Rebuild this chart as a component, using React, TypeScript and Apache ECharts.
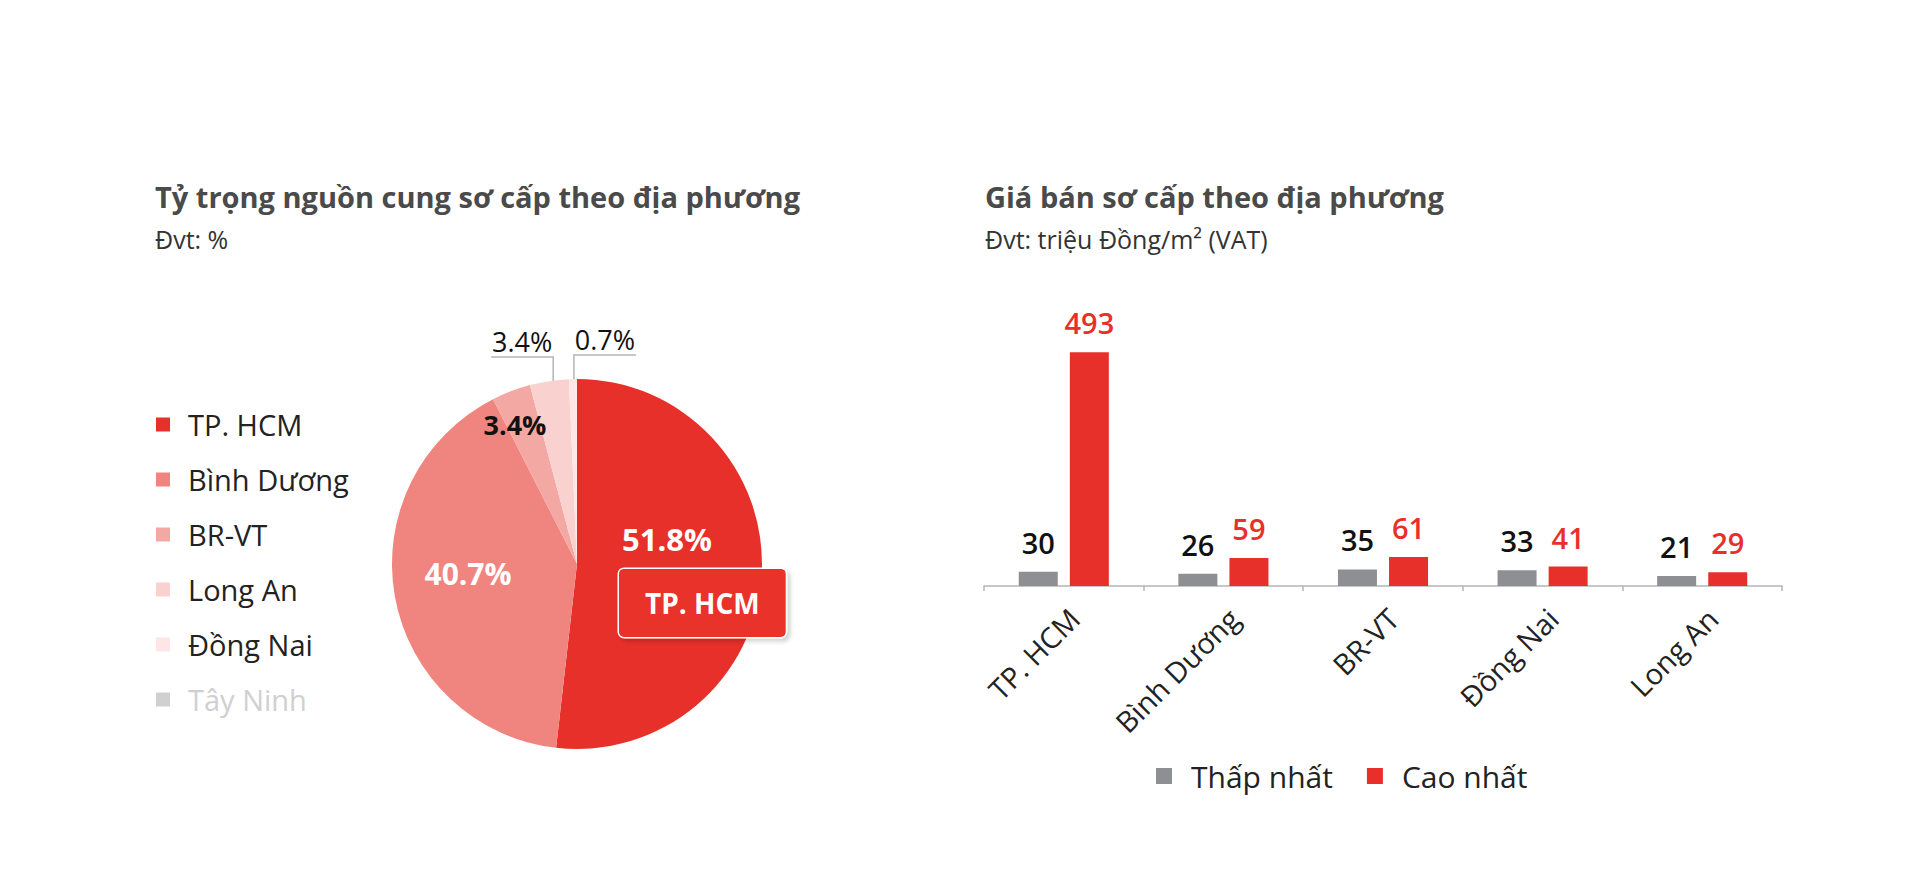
import React, { useEffect, useRef } from 'react';
import * as echarts from 'echarts';

const FONT = '"Open Sans", Lato, sans-serif';

// pie: share of primary supply by locality (%)
const pieNames = ['TP. HCM', 'Bình Dương', 'BR-VT', 'Long An', 'Đồng Nai', 'Tây Ninh'];
const pieValues = [51.8, 40.7, 3.4, 3.4, 0.7, 0];
const pieColors = ['#e8302a', '#f08580', '#f4a8a4', '#f9d1cf', '#fde6e5', '#cccccc'];

// bars: primary selling price (million VND / m2)
const barCategories = ['TP. HCM', 'Bình Dương', 'BR-VT', 'Đồng Nai', 'Long An'];
const lowPrices = [30, 26, 35, 33, 21];
const highPrices = [493, 59, 61, 41, 29];

const RED = '#e8302a';
const GRAY = '#8e8f93';

// nudges for the labels that sit inside the pie
const insideShift: Record<string, [number, number]> = {
  'TP. HCM': [30, 11],
  'Bình Dương': [-15, -8],
  'BR-VT': [-28, -50],
};

const App: React.FC = () => {
  const chartRef = useRef<HTMLDivElement>(null);

  useEffect(() => {
    const myChart = echarts.init(chartRef.current!, undefined, { renderer: 'svg' });

    const pieData = pieNames.map((name, i) => {
      const item: any = { name, value: pieValues[i], itemStyle: { color: pieColors[i] } };
      if (name === 'TP. HCM') {
        item.label = {
          position: 'inside',
          formatter: (p: any) => `{v|${p.value}%}\n{box|${p.name}}`,
          rich: {
            v: { fontSize: 31, fontWeight: 'bold', color: '#fff', align: 'left', padding: [0, 0, 14, 3], fontFamily: FONT },
            box: {
              fontSize: 28,
              fontWeight: 'bold',
              color: '#fff',
              fontFamily: FONT,
              backgroundColor: RED,
              borderColor: '#fff',
              borderWidth: 1.5,
              borderRadius: 5,
              padding: [20, 26],
              shadowColor: 'rgba(0,0,0,0.18)',
              shadowBlur: 4,
              shadowOffsetX: 3,
              shadowOffsetY: 3,
            },
          },
        };
      } else if (name === 'Bình Dương') {
        item.label = { position: 'inside', color: '#fff', fontSize: 30, fontWeight: 'bold' };
      } else if (name === 'BR-VT') {
        item.label = { position: 'inside', color: '#111', fontSize: 27, fontWeight: 'bold' };
      } else if (name === 'Long An' || name === 'Đồng Nai') {
        item.label = { position: 'outside', color: '#111', fontSize: 27, fontWeight: 500 };
        item.labelLine = { show: true, length: 20, length2: 60, lineStyle: { color: '#b5b5b5', width: 1.5 } };
      } else {
        item.label = { show: false };
        item.labelLine = { show: false };
      }
      return item;
    });

    const option = {
      animation: false,
      textStyle: { fontFamily: FONT },
      title: [
        {
          text: 'Tỷ trọng nguồn cung sơ cấp theo địa phương',
          subtext: 'Đvt: %',
          left: 155,
          top: 182,
          padding: 0,
          itemGap: 15,
          textStyle: { fontSize: 29, fontWeight: 'bold', color: '#4a4a4a', fontFamily: FONT },
          subtextStyle: { fontSize: 25, color: '#333', fontFamily: FONT },
        },
        {
          text: 'Giá bán sơ cấp theo địa phương',
          subtext: 'Đvt: triệu Đồng/m² (VAT)',
          left: 985,
          top: 182,
          padding: 0,
          itemGap: 15,
          textStyle: { fontSize: 29, fontWeight: 'bold', color: '#4a4a4a', fontFamily: FONT },
          subtextStyle: { fontSize: 25, color: '#333', fontFamily: FONT },
        },
      ],
      legend: [
        {
          data: pieNames,
          orient: 'vertical',
          left: 156,
          top: 410,
          padding: 0,
          itemWidth: 14,
          itemHeight: 14,
          itemGap: 26,
          icon: 'rect',
          selected: { 'Tây Ninh': false },
          inactiveColor: '#d0d0d0',
          textStyle: { fontSize: 29, color: '#222', padding: [0, 0, 0, 13], fontFamily: FONT },
        },
        {
          data: ['Thấp nhất', 'Cao nhất'],
          left: 1156,
          top: 761,
          padding: 0,
          itemWidth: 16,
          itemHeight: 16,
          itemGap: 34,
          icon: 'rect',
          textStyle: { fontSize: 30, color: '#222', padding: [0, 0, 0, 14], fontFamily: FONT },
        },
      ],
      grid: { left: 984, width: 798, top: 349, bottom: 283 },
      xAxis: {
        type: 'category',
        data: barCategories,
        axisLine: { lineStyle: { color: '#b5b5b5', width: 1.5 } },
        axisTick: { show: true, length: 5, lineStyle: { color: '#b5b5b5', width: 1.5 } },
        axisLabel: {
          rotate: 45,
          interval: 0,
          fontSize: 29,
          color: '#222',
          margin: 17,
          verticalAlign: 'top',
          fontFamily: FONT,
        },
      },
      yAxis: { type: 'value', min: 0, max: 500, show: false, splitLine: { show: false } },
      series: [
        {
          type: 'pie',
          center: [577, 564],
          radius: 185,
          startAngle: 90,
          clockwise: true,
          avoidLabelOverlap: false,
          emphasis: { disabled: true },
          label: { show: true, formatter: '{c}%', fontFamily: FONT },
          labelLayout: (p: any) => {
            const name = pieNames[p.dataIndex];
            const shift = insideShift[name];
            if (shift) return { dx: shift[0], dy: shift[1] };
            const pts = p.labelLinePoints;
            if (!pts || !pts.length) return {};
            const p0 = pts[0];
            const side = name === 'Đồng Nai' ? 1 : -1;
            const x0 = p0[0] + (side < 0 ? 4 : 1);
            const elbowY = p0[1] - 24;
            const end = x0 + side * 62;
            return {
              x: (x0 + end) / 2,
              y: elbowY - 2,
              align: 'center',
              verticalAlign: 'bottom',
              // leader runs a little way into the slice, then turns sideways under the text
              labelLinePoints: [
                [x0, p0[1] + 18],
                [x0, elbowY],
                [end, elbowY],
              ],
            };
          },
          data: pieData,
        },
        {
          name: 'Thấp nhất',
          type: 'bar',
          data: lowPrices,
          barWidth: 39,
          barGap: '31%',
          itemStyle: { color: GRAY },
          label: { show: true, position: 'top', distance: 15, fontSize: 29, fontWeight: 600, color: '#111', fontFamily: FONT },
        },
        {
          name: 'Cao nhất',
          type: 'bar',
          data: highPrices,
          barWidth: 39,
          barGap: '31%',
          itemStyle: { color: RED },
          label: { show: true, position: 'top', distance: 15, fontSize: 29, fontWeight: 600, color: RED, fontFamily: FONT },
        },
      ],
    };

    myChart.setOption(option as any);

    return () => {
      myChart.dispose();
    };
  }, []);

  return (
    <div
      ref={chartRef}
      style={{ position: 'absolute', left: 0, top: 0, width: '1920px', height: '869px', background: '#fff' }}
    />
  );
};

export default App;
